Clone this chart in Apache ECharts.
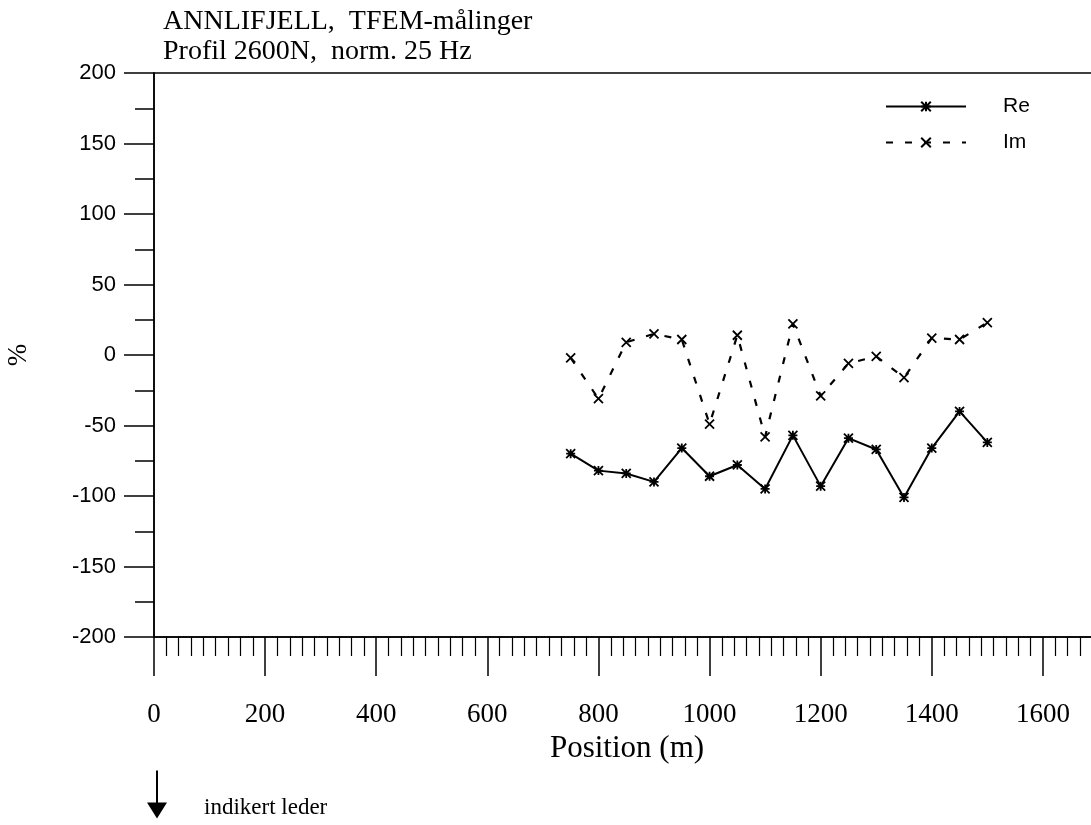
<!DOCTYPE html>
<html>
<head>
<meta charset="utf-8">
<title>ANNLIFJELL TFEM</title>
<script src="https://cdn.jsdelivr.net/npm/echarts@6/dist/echarts.min.js"></script>
<style>
  html, body { margin: 0; padding: 0; background: #fff; }
  #chart { width: 1091px; height: 825px; }
</style>
</head>
<body>
<div id="chart"></div>
<script>
// Profile positions (m) along line 2600N
const positions = [750, 800, 850, 900, 950, 1000, 1050, 1100, 1150, 1200, 1250, 1300, 1350, 1400, 1450, 1500];
// Real component (%), normalised at 25 Hz
const reValues = [-70, -82, -84, -90, -66, -86, -78, -95, -57, -93, -59, -67, -101, -66, -40, -62];
// Imaginary component (%)
const imValues = [-2, -31, 9, 15, 11, -49, 14, -58, 22, -29, -6, -1, -16, 12, 11, 23];

const titleLines = ['ANNLIFJELL,  TFEM-målinger', 'Profil 2600N,  norm. 25 Hz'];

const SERIF = '"Liberation Serif", "Times New Roman", serif';
const SANS = '"Liberation Sans", Arial, sans-serif';

const pairs = (xs, ys) => xs.map((x, i) => [x, ys[i]]);

// Thin-stroked marker shapes
const crossSymbol = 'path://M0,0L10,10M10,0L0,10';
const starSymbol = 'path://M0,0L10,10M10,0L0,10M5,0L5,10M0,5L10,5';

const chart = echarts.init(document.getElementById('chart'), null, { renderer: 'canvas' });

chart.setOption({
  animation: false,
  backgroundColor: '#ffffff',
  title: {
    text: titleLines.join('\n'),
    left: 158,
    top: 2,
    textStyle: {
      fontFamily: SERIF,
      fontSize: 28,
      fontWeight: 'normal',
      color: '#000',
      lineHeight: 30
    }
  },
  // the plot frame runs on past the right edge of the page
  grid: {
    left: 154,
    width: 1000,
    top: 73,
    bottom: 188,
    show: true,
    borderColor: '#000',
    borderWidth: 1.5,
    containLabel: false,
    outerBoundsMode: 'none'
  },
  legend: {
    orient: 'vertical',
    left: 880,
    top: 91,
    itemWidth: 80,
    itemHeight: 12,
    itemGap: 15,
    data: ['Re', 'Im'],
    textStyle: {
      fontFamily: SANS,
      fontSize: 21,
      color: '#000',
      padding: [0, 0, 0, 32]
    }
  },
  xAxis: {
    type: 'value',
    min: 0,
    max: 1800,
    interval: 200,
    name: 'Position (m)',
    nameLocation: 'middle',
    nameGap: 95,
    nameTextStyle: { fontFamily: SERIF, fontSize: 31, color: '#000', padding: [0, 54, 0, 0] },
    axisLine: { onZero: false, lineStyle: { color: '#000', width: 1.5 } },
    axisTick: { show: true, inside: false, length: 39, lineStyle: { color: '#000', width: 1.5 } },
    minorTick: { show: true, splitNumber: 9, length: 19, lineStyle: { color: '#000', width: 1.2 } },
    axisLabel: {
      margin: 64,
      fontFamily: SERIF,
      fontSize: 27,
      color: '#000',
      formatter: v => String(v)
    },
    splitLine: { show: false },
    minorSplitLine: { show: false }
  },
  yAxis: {
    type: 'value',
    min: -200,
    max: 200,
    interval: 50,
    name: '%',
    nameLocation: 'middle',
    nameGap: 122,
    nameRotate: 90,
    nameTextStyle: { fontFamily: SERIF, fontSize: 27, color: '#000' },
    axisLine: { onZero: false, lineStyle: { color: '#000', width: 1.5 } },
    axisTick: { show: true, inside: false, length: 30, lineStyle: { color: '#000', width: 1.5 } },
    minorTick: { show: true, splitNumber: 2, length: 19, lineStyle: { color: '#000', width: 1.5 } },
    axisLabel: { margin: 38, fontFamily: SANS, fontSize: 22, color: '#000' },
    splitLine: { show: false },
    minorSplitLine: { show: false }
  },
  series: [
    {
      name: 'Re',
      type: 'line',
      data: pairs(positions, reValues),
      symbol: starSymbol,
      symbolSize: 9,
      showAllSymbol: true,
      itemStyle: { color: '#000', borderColor: '#000', borderWidth: 1.8 },
      lineStyle: { color: '#000', width: 2, type: 'solid' }
    },
    {
      name: 'Im',
      type: 'line',
      data: pairs(positions, imValues),
      symbol: crossSymbol,
      symbolSize: 9,
      showAllSymbol: true,
      itemStyle: { color: '#000', borderColor: '#000', borderWidth: 1.8 },
      lineStyle: { color: '#000', width: 2.2, type: [7, 12] }
    }
  ],
  graphic: [
    {
      type: 'group',
      left: 147,
      top: 768,
      children: [
        { type: 'line', shape: { x1: 10, y1: 0, x2: 10, y2: 34 }, style: { stroke: '#000', lineWidth: 2 } },
        { type: 'polygon', shape: { points: [[0, 32], [20, 32], [10, 48]] }, style: { fill: '#000' } }
      ]
    },
    {
      type: 'text',
      left: 204,
      top: 796,
      style: { text: 'indikert leder', fontFamily: SERIF, fontSize: 23, fill: '#000' }
    }
  ]
});
</script>
</body>
</html>
